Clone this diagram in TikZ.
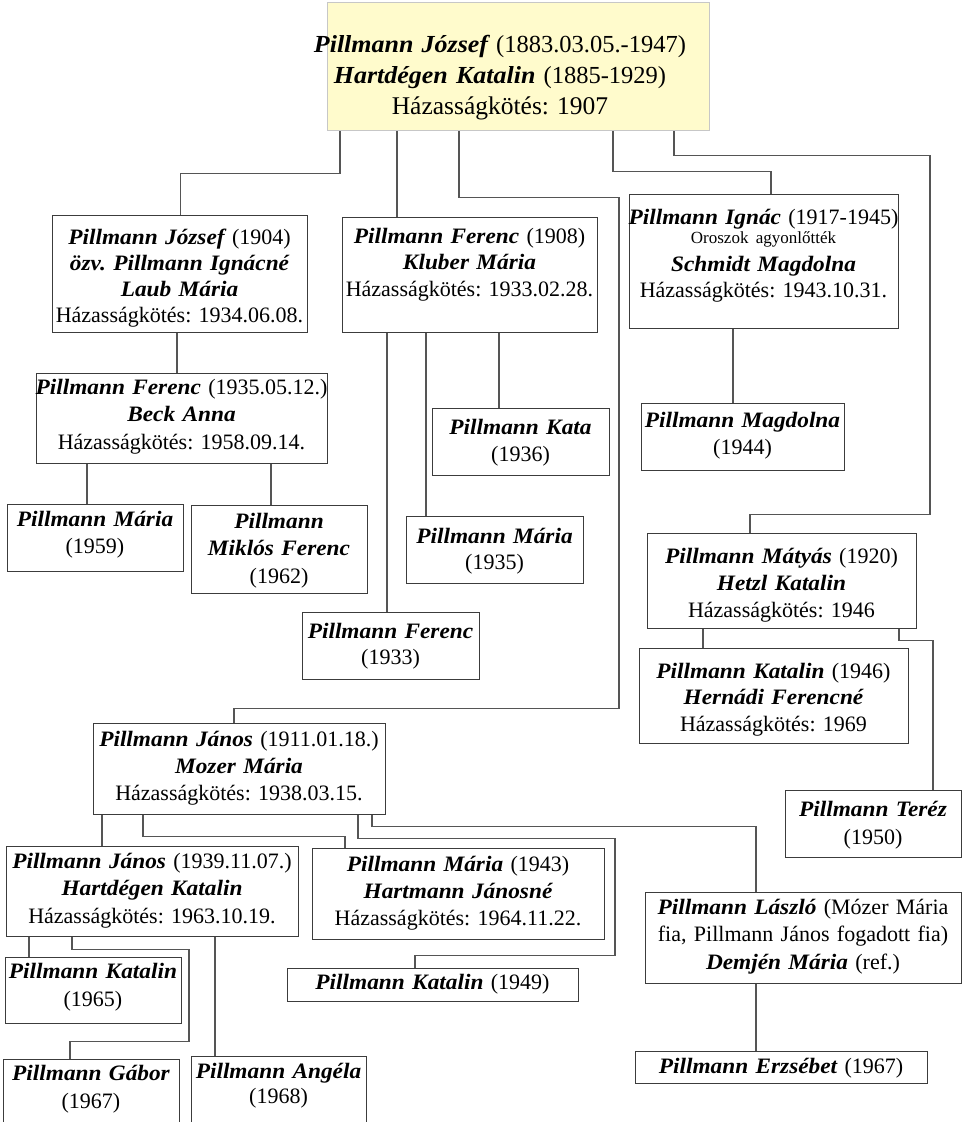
\documentclass[tikz,border=0pt]{standalone}
\usepackage{fontspec}
\setmainfont{Liberation Serif}[BoldItalicFeatures={FakeStretch=1.06}]
\usetikzlibrary{calc}
\frenchspacing
\definecolor{topfill}{RGB}{255,251,204}
\definecolor{boxline}{RGB}{60,60,60}
\definecolor{connline}{RGB}{85,85,85}
\newcommand\bnm[1]{{\bfseries\itshape #1}}
\newcommand\mkbox[5]{\node[bxs, anchor=north west, minimum width={(#4-#2)*1pt}, minimum height={(#5-#3)*1pt}] (#1) at (#2,#3) {};}
\tikzset{
  bxs/.style={rectangle, draw=boxline, line width=1.2pt, inner sep=0pt, fill=white},
  txt/.style={anchor=base, inner sep=0pt, text width=400pt, align=center, font=\fontsize{22}{27}\selectfont\frenchspacing},
  conn/.style={draw=connline, line width=1.2pt}
}
\begin{document}
\begin{tikzpicture}[x=1pt,y=-1pt]
\clip (0,0) rectangle (962,1122);
\fill[white] (0,0) rectangle (962,1122);
% top box
\node[rectangle, anchor=north west, minimum width=382pt, minimum height=128pt, draw=black!22, fill=topfill, line width=1.2pt, inner sep=0pt] (T) at (327,2) {};
\node[txt, font=\fontsize{24.5}{31}\selectfont\frenchspacing] (T-t) at (500,52.5) {\bnm{Pillmann József} (1883.03.05.-1947)\\ \bnm{Hartdégen Katalin} (1885-1929)\\ {\fontsize{25.5}{31}\selectfont Házasságkötés: 1907}};
% boxes
\mkbox{A}{52}{215}{307}{332}
\mkbox{F}{342}{217}{597}{332}
\mkbox{I}{629}{194}{898}{328}
\mkbox{K}{432}{408}{609}{475}
\mkbox{Mag}{641}{403}{844}{470}
\mkbox{B}{36}{373}{327}{463}
\mkbox{M59}{7}{504}{183}{571}
\mkbox{MF}{191}{505}{367}{593}
\mkbox{F33}{302}{612}{479}{679}
\mkbox{M35}{406}{516}{583}{583}
\mkbox{Mat}{647}{533}{916}{628}
\mkbox{K46}{639}{648}{908}{743}
\mkbox{Ter}{785}{790}{961}{857}
\mkbox{J}{93}{723}{385}{814}
\mkbox{J2}{6}{846}{298}{936}
\mkbox{M43}{312}{848}{604}{939}
\mkbox{K49}{287}{968}{578}{1001}
\mkbox{Las}{645}{892}{961}{983}
\mkbox{Erz}{635}{1051}{927}{1083}
\mkbox{K65}{5}{957}{181}{1023}
\mkbox{Gab}{3}{1059}{179}{1140}
\mkbox{Ang}{191}{1056}{366}{1140}
% texts
\node[txt, font=\fontsize{22}{26}\selectfont\frenchspacing] (A-t) at (179.5,244) {\bnm{Pillmann József} (1904)\\ \bnm{özv. Pillmann Ignácné}\\ \bnm{Laub Mária}\\ Házasságkötés: 1934.06.08.};
\node[txt, font=\fontsize{22}{26.5}\selectfont\frenchspacing] (F-t) at (469.5,243) {\bnm{Pillmann Ferenc} (1908)\\ \bnm{Kluber Mária}\\ Házasságkötés: 1933.02.28.};
\node[txt, font=\fontsize{22}{26}\selectfont\frenchspacing] (I-t) at (763.5,224) {\bnm{Pillmann Ignác} (1917-1945)\\[-7pt] {\fontsize{17}{19}\selectfont Oroszok agyonlőtték}\\[2pt] \bnm{Schmidt Magdolna}\\ Házasságkötés: 1943.10.31.};
\node[txt] (K-t) at (520.5,434) {\bnm{Pillmann Kata}\\ (1936)};
\node[txt] (Mag-t) at (742.5,427) {\bnm{Pillmann Magdolna}\\ (1944)};
\node[txt, font=\fontsize{22}{27.5}\selectfont\frenchspacing] (B-t) at (181.5,394) {\bnm{Pillmann Ferenc} (1935.05.12.)\\ \bnm{Beck Anna}\\ Házasságkötés: 1958.09.14.};
\node[txt] (M59-t) at (95,526) {\bnm{Pillmann Mária}\\ (1959)};
\node[txt, font=\fontsize{22}{27.5}\selectfont\frenchspacing] (MF-t) at (279,528) {\bnm{Pillmann}\\ \bnm{Miklós Ferenc}\\ (1962)};
\node[txt, font=\fontsize{22}{26}\selectfont\frenchspacing] (F33-t) at (390.5,638) {\bnm{Pillmann Ferenc}\\ (1933)};
\node[txt, font=\fontsize{22}{26}\selectfont\frenchspacing] (M35-t) at (494.5,543) {\bnm{Pillmann Mária}\\ (1935)};
\node[txt] (Mat-t) at (781.5,563) {\bnm{Pillmann Mátyás} (1920)\\ \bnm{Hetzl Katalin}\\ Házasságkötés: 1946};
\node[txt, font=\fontsize{22}{26.5}\selectfont\frenchspacing] (K46-t) at (773.5,678) {\bnm{Pillmann Katalin} (1946)\\ \bnm{Hernádi Ferencné}\\ Házasságkötés: 1969};
\node[txt, font=\fontsize{22}{28}\selectfont\frenchspacing] (Ter-t) at (873,816) {\bnm{Pillmann Teréz}\\ (1950)};
\node[txt] (J-t) at (239,746) {\bnm{Pillmann János} (1911.01.18.)\\ \bnm{Mozer Mária}\\ Házasságkötés: 1938.03.15.};
\node[txt, font=\fontsize{22}{27.5}\selectfont\frenchspacing] (J2-t) at (152,868) {\bnm{Pillmann János} (1939.11.07.)\\ \bnm{Hartdégen Katalin}\\ Házasságkötés: 1963.10.19.};
\node[txt] (M43-t) at (458,871) {\bnm{Pillmann Mária} (1943)\\ \bnm{Hartmann Jánosné}\\ Házasságkötés: 1964.11.22.};
\node[txt] (K49-t) at (432.5,989) {\bnm{Pillmann Katalin} (1949)};
\node[txt, font=\fontsize{22}{27.5}\selectfont\frenchspacing] (Las-t) at (803,914) {\bnm{Pillmann László} (Mózer Mária\\ fia, Pillmann János fogadott fia)\\ \bnm{Demjén Mária} (ref.)};
\node[txt] (Erz-t) at (781,1073) {\bnm{Pillmann Erzsébet} (1967)};
\node[txt, font=\fontsize{22}{28}\selectfont\frenchspacing] (K65-t) at (93,978) {\bnm{Pillmann Katalin}\\ (1965)};
\node[txt, font=\fontsize{22}{28}\selectfont\frenchspacing] (Gab-t) at (91,1080) {\bnm{Pillmann Gábor}\\ (1967)};
\node[txt, font=\fontsize{22}{25}\selectfont\frenchspacing] (Ang-t) at (278.5,1078) {\bnm{Pillmann Angéla}\\ (1968)};
% connectors
\draw[conn] ($(T.south west)+(13,0)$) -- ++(0,42) -| (A.north);
\draw[conn] ($(T.south west)+(70,0)$) coordinate (c2) -- (c2 |- F.north);
\draw[conn] ($(T.south west)+(132,0)$) -- ++(0,66) -- ++(160,0) -- ++(0,511) -| ($(J.north west)+(141,0)$);
\draw[conn] ($(T.south west)+(286,0)$) -- ++(0,40) -| ($(I.north west)+(142,0)$);
\draw[conn] ($(T.south west)+(347,0)$) -- ++(0,24) -- ++(256,0) -- ++(0,359) -| ($(Mat.north west)+(103,0)$);
\draw[conn] ($(A.south west)+(125,0)$) coordinate (c6) -- (c6 |- B.north);
\draw[conn] ($(B.south west)+(51,0)$) coordinate (c7) -- (c7 |- M59.north);
\draw[conn] ($(B.south west)+(235,0)$) coordinate (c8) -- (c8 |- MF.north);
\draw[conn] ($(F.south west)+(45,0)$) coordinate (c9) -- (c9 |- F33.north);
\draw[conn] ($(F.south west)+(84,0)$) coordinate (c10) -- (c10 |- M35.north);
\draw[conn] ($(F.south west)+(157,0)$) coordinate (c11) -- (c11 |- K.north);
\draw[conn] ($(I.south west)+(104,0)$) coordinate (c12) -- (c12 |- Mag.north);
\draw[conn] ($(Mat.south west)+(56,0)$) coordinate (c13) -- (c13 |- K46.north);
\draw[conn] ($(Mat.south west)+(252,0)$) -- ++(0,11) -| ($(Ter.north west)+(148,0)$);
\draw[conn] ($(J.south west)+(9,0)$) coordinate (c15) -- (c15 |- J2.north);
\draw[conn] ($(J.south west)+(50,0)$) -- ++(0,21) -| ($(M43.north west)+(33,0)$);
\draw[conn] ($(J.south west)+(265,0)$) -- ++(0,23) -- ++(257,0) -- ++(0,117) -| ($(K49.north west)+(128,0)$);
\draw[conn] ($(J.south west)+(279,0)$) -- ++(0,11) -| ($(Las.north west)+(111,0)$);
\draw[conn] ($(J2.south west)+(23,0)$) coordinate (c19) -- (c19 |- K65.north);
\draw[conn] ($(J2.south west)+(66,0)$) -- ++(0,12) -- ++(117,0) -- ++(0,92) -| ($(Gab.north west)+(67,0)$);
\draw[conn] ($(J2.south west)+(209,0)$) coordinate (c21) -- (c21 |- Ang.north);
\draw[conn] ($(Las.south west)+(111,0)$) coordinate (c22) -- (c22 |- Erz.north);
\end{tikzpicture}
\end{document}
